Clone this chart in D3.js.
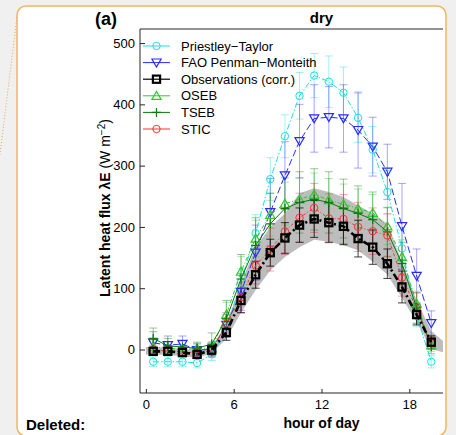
<!DOCTYPE html>
<html lang="en">
	<head>
		<meta charset="UTF-8">
		<title>Latent heat flux, dry</title>
		<script src="https://d3js.org/d3.v7.min.js"></script>
		<style>
			body {
				margin: 0;
				background: #f0f0f0;
			}

			svg text {
				font-family: "Liberation Sans", Arial, sans-serif;
				fill: #000;
			}

			.axis text {
				font-size: 13px;
			}

			.axis line {
				stroke: #262626;
			}
		</style>
	</head>
	<body>
		<svg id="chart" width="456" height="435"></svg>
		<script>
			// hour of day (half-hour centres)
			const hours = [0.5, 1.5, 2.5, 3.5, 4.5, 5.5, 6.5, 7.5, 8.5, 9.5, 10.5, 11.5, 12.5, 13.5, 14.5, 15.5, 16.5, 17.5, 18.5, 19.5]

			const ptValues = [-20, -20, -20, -22, -8, 35, 110, 190, 278, 348, 414, 447, 437, 419, 378, 326, 257, 165, 55, -20]
			const ptErr = [8, 8, 8, 8, 10, 15, 22, 30, 35, 35, 38, 36, 42, 42, 40, 38, 35, 30, 18, 10]

			const faoValues = [11, 7, 9, -1, 0, 40, 94, 158, 224, 284, 340, 377, 379, 377, 358, 331, 290, 201, 120, 43]
			const faoErr = [18, 15, 13, 10, 12, 20, 30, 45, 55, 55, 60, 55, 50, 55, 62, 48, 45, 70, 44, 20]

			const obsValues = [-3, -3, -5, -8, -1, 28, 80, 122, 158, 182, 203, 213, 207, 201, 181, 167, 140, 102, 57, 12]
			const obsErr = [6, 6, 6, 6, 8, 13, 20, 22, 22, 25, 28, 30, 32, 30, 30, 28, 24, 26, 17, 10]

			const osebValues = [4, 3, -1, 2, 2, 57, 127, 181, 220, 238, 245, 253, 244, 237, 230, 223, 201, 151, 75, 7]
			const osebErr = [10, 10, 8, 8, 10, 20, 25, 30, 35, 35, 35, 35, 35, 33, 32, 30, 30, 28, 20, 10]

			const tsebValues = [18, 6, 4, 2, 9, 50, 115, 170, 205, 230, 240, 245, 240, 230, 222, 212, 192, 140, 68, 5]
			const tsebErr = [17, 12, 10, 10, 18, 30, 40, 45, 50, 50, 50, 50, 50, 48, 45, 45, 40, 35, 25, 12]

			const sticValues = [-1, -2, -4, -5, -2, 42, 85, 137, 163, 193, 215, 231, 214, 213, 200, 193, 186, 117, 67, 10]
			const sticErr = [8, 8, 8, 8, 10, 15, 25, 30, 35, 38, 40, 40, 40, 40, 40, 38, 35, 30, 25, 10]

			// grey envelope round the observations
			const bandHours = [0, 0.5, 1.5, 2.5, 3.5, 4.5, 5.5, 6.5, 7.5, 8.5, 9.5, 10.5, 11.5, 12.5, 13.5, 14.5, 15.5, 16.5, 17.5, 18.5, 19.5, 20.5]
			const bandLow = [-8, -8, -9, -11, -14, -6, 18, 60, 97, 129, 151, 167, 179, 176, 170, 162, 143, 122, 84, 45, 1, -6]
			const bandHigh = [4, 4, 3, 1, -2, 5, 40, 108, 167, 200, 222, 255, 263, 257, 249, 235, 222, 205, 142, 80, 30, 10]

			const xTicks = [0, 6, 12, 18]
			const yTicks = [0, 100, 200, 300, 400, 500]

			const series = [
				{ name: "Priestley\u2212Taylor", values: ptValues, err: ptErr, color: "#1fdde0", dash: "6,2,1.5,2", width: 1, marker: "circle" },
				{ name: "FAO Penman\u2212Monteith", values: faoValues, err: faoErr, color: "#2b2bff", dash: "7,3", width: 1, marker: "triDown" },
				{ name: "Observations (corr.)", values: obsValues, err: obsErr, color: "#000000", dash: "7,3,2,3", width: 2.6, marker: "square" },
				{ name: "OSEB", values: osebValues, err: osebErr, color: "#2fc82f", dash: "4,2,1,2", width: 1, marker: "triUp" },
				{ name: "TSEB", values: tsebValues, err: tsebErr, color: "#0b7a0b", dash: null, width: 1, marker: "plus" },
				{ name: "STIC", values: sticValues, err: sticErr, color: "#ff3030", dash: "3,2,1,2", width: 1, marker: "circleRed" }
			]
			// drawing order: observations last so the squares sit on top
			const drawOrder = [0, 1, 3, 4, 5, 2]

			const svg = d3.select("#chart")

			// card with orange border
			svg.append("rect")
				.attr("x", 17).attr("y", 6)
				.attr("width", 429).attr("height", 430)
				.attr("rx", 9)
				.attr("fill", "#fff")

			svg.append("line")
				.attr("x1", 17).attr("y1", 17)
				.attr("x2", -1).attr("y2", 162)
				.attr("stroke", "#e9a948")
				.attr("stroke-width", 1)
				.attr("stroke-dasharray", "1,2")

			svg.append("clipPath").attr("id", "cardClip")
				.append("rect")
				.attr("x", 0).attr("y", 0)
				.attr("width", 443).attr("height", 435)

			const g = svg.append("g").attr("clip-path", "url(#cardClip)")

			const x = d3.scaleLinear().domain([-0.4, 24.4]).range([140, 503])
			const y = d3.scaleLinear().domain([-71, 523]).range([393, 29])

			// grey band
			const bandData = bandHours.map((h, i) => ({ h: h, lo: bandLow[i], hi: bandHigh[i] }))
			g.append("path")
				.datum(bandData)
				.attr("fill", "#bdbdbd")
				.attr("d", d3.area().x(d => x(d.h)).y0(d => y(d.lo)).y1(d => y(d.hi)))

			// error bars
			const cap = 4
			drawOrder.forEach(function (si) {
				const s = series[si]
				const eb = g.append("g")
					.attr("stroke", s.color)
					.attr("stroke-opacity", s.color === "#000000" ? 0.75 : 0.42)
					.attr("stroke-width", 1)
					.attr("fill", "none")
				const pts = hours.map((h, i) => ({ h: h, v: s.values[i], e: s.err[i] }))
				eb.selectAll("path")
					.data(pts)
					.join("path")
					.attr("d", d => {
						const cx = x(d.h), top = y(d.v + d.e), bot = y(d.v - d.e)
						return `M${cx},${top}V${bot}M${cx - cap},${top}H${cx + cap}M${cx - cap},${bot}H${cx + cap}`
					})
			})

			function drawMarker(sel, s) {
				const c = s.color
				if (s.marker === "circle" || s.marker === "circleRed") {
					sel.append("circle").attr("r", 3.7)
						.attr("fill", "none").attr("stroke", c).attr("stroke-width", 1)
				} else if (s.marker === "square") {
					sel.append("rect").attr("x", -3.6).attr("y", -3.6)
						.attr("width", 7.2).attr("height", 7.2)
						.attr("fill", "none").attr("stroke", c).attr("stroke-width", 2.2)
				} else if (s.marker === "triDown") {
					sel.append("path").attr("d", "M-4.6,-3.6L4.6,-3.6L0,4.4Z")
						.attr("fill", "none").attr("stroke", c).attr("stroke-width", 1.2)
				} else if (s.marker === "triUp") {
					sel.append("path").attr("d", "M-4.6,3.6L4.6,3.6L0,-4.4Z")
						.attr("fill", "none").attr("stroke", c).attr("stroke-width", 1.2)
				} else if (s.marker === "plus") {
					sel.append("path").attr("d", "M-4.5,0H4.5M0,-4.5V4.5")
						.attr("fill", "none").attr("stroke", c).attr("stroke-width", 1.2)
				}
			}

			// lines and markers
			drawOrder.forEach(function (si) {
				const s = series[si]
				const pts = hours.map((h, i) => ({ h: h, v: s.values[i] }))
				g.append("path")
					.datum(pts)
					.attr("fill", "none")
					.attr("stroke", s.color)
					.attr("stroke-width", s.width)
					.attr("stroke-dasharray", s.dash)
					.attr("d", d3.line().x(d => x(d.h)).y(d => y(d.v)))
				g.append("g")
					.selectAll("g")
					.data(pts)
					.join("g")
					.attr("transform", d => `translate(${x(d.h)},${y(d.v)})`)
					.each(function () { drawMarker(d3.select(this), s) })
			})

			// axes, ticks pointing inwards
			const yAxis = g.append("g").attr("class", "axis")
				.attr("transform", "translate(140,0)")
				.call(d3.axisLeft(y).tickValues(yTicks).tickSizeInner(-5).tickSizeOuter(0).tickPadding(5))
			yAxis.select(".domain").remove()

			const xAxis = g.append("g").attr("class", "axis")
				.attr("transform", "translate(0,393)")
				.call(d3.axisBottom(x).tickValues(xTicks).tickSizeInner(-4).tickSizeOuter(0).tickPadding(7))
			xAxis.select(".domain").remove()

			g.append("path")
				.attr("d", "M140,29V393H503V29Z")
				.attr("fill", "none")
				.attr("stroke", "#262626")
				.attr("stroke-width", 1)

			// legend (no box)
			const legend = svg.append("g")
			series.forEach(function (s, i) {
				const ly = 46 + i * 16.6
				const row = legend.append("g").attr("transform", `translate(0,${ly})`)
				row.append("line")
					.attr("x1", 143).attr("x2", 170)
					.attr("stroke", s.color).attr("stroke-width", s.marker === "square" ? 1.2 : 1)
				drawMarker(row.append("g").attr("transform", "translate(156.5,0)"), s)
				row.append("text")
					.attr("x", 181).attr("y", 0)
					.attr("dy", "0.35em")
					.style("font-size", "13px")
					.text(s.name)
			})

			// labels
			svg.append("text")
				.attr("x", 95).attr("y", 25)
				.style("font-size", "18px").style("font-weight", "bold")
				.text("(a)")

			svg.append("text")
				.attr("x", 321.5).attr("y", 23)
				.attr("text-anchor", "middle")
				.style("font-size", "15px").style("font-weight", "bold")
				.text("dry")

			svg.append("text")
				.attr("x", 321.5).attr("y", 428)
				.attr("text-anchor", "middle")
				.style("font-size", "14px").style("font-weight", "bold")
				.text("hour of day")

			const yl = svg.append("text")
				.attr("transform", "translate(110,208) rotate(-90)")
				.attr("text-anchor", "middle")
				.style("font-size", "14px")
			yl.append("tspan").style("font-weight", "bold").text("Latent heat flux \u03bbE ")
			yl.append("tspan").text("(W m")
			yl.append("tspan").attr("dy", -5).style("font-size", "10px").text("\u22122")
			yl.append("tspan").attr("dy", 5).text(")")

			svg.append("text")
				.attr("x", 26).attr("y", 430)
				.style("font-size", "15px").style("font-weight", "bold")
				.text("Deleted:")

			// card border on top
			svg.append("rect")
				.attr("x", 17).attr("y", 6)
				.attr("width", 429).attr("height", 430)
				.attr("rx", 9)
				.attr("fill", "none")
				.attr("stroke", "#efb75f")
				.attr("stroke-width", 1.5)
		</script>
	</body>
</html>
